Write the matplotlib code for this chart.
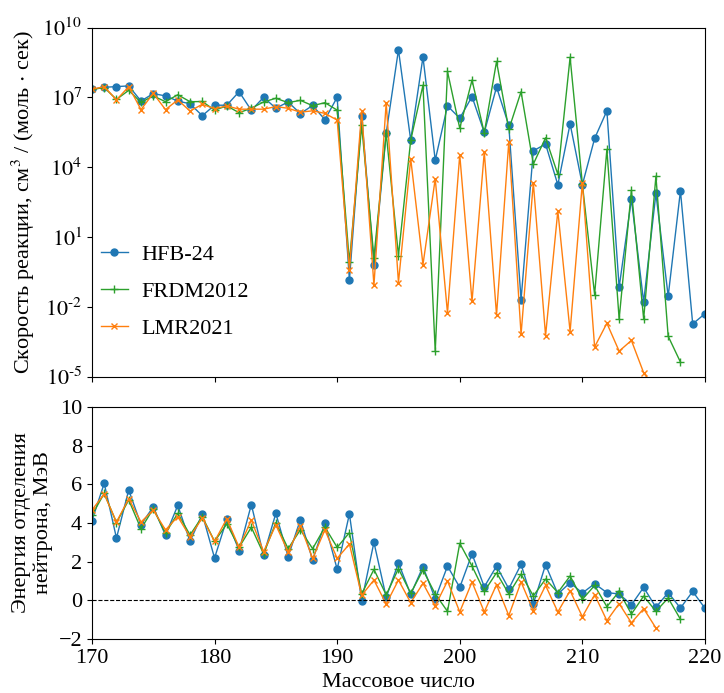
import numpy as np
import matplotlib
matplotlib.use('Agg')
import matplotlib.pyplot as plt
from matplotlib.ticker import FixedLocator, FuncFormatter, NullLocator

plt.rcParams['font.family'] = ['Liberation Serif', 'DejaVu Serif']
plt.rcParams['mathtext.fontset'] = 'stix'
plt.rcParams['font.size'] = 16

# mass numbers
mass_hfb = np.arange(170, 221)
mass_frdm = np.arange(170, 219)
mass_lmr = np.arange(170, 217)

# log10 of the reaction rate
log_rate_hfb = [7.34, 7.43, 7.46, 7.49, 6.84, 7.16, 7.06, 6.84, 6.72, 6.21,
                6.66, 6.66, 7.24, 6.44, 7.00, 6.53, 6.80, 6.30, 6.65, 6.04,
                7.00, -0.86, 6.19, -0.19, 5.46, 9.04, 5.16, 8.73, 4.30, 6.63,
                6.10, 7.03, 5.49, 7.44, 5.79, -1.70, 4.70, 4.99, 3.24, 5.86,
                3.24, 5.23, 6.42, -1.17, 2.62, -1.80, 2.87, -1.55, 2.98, -2.74,
                -2.30]
log_rate_frdm = [7.34, 7.42, 6.91, 7.30, 6.78, 7.06, 6.81, 7.11, 6.81, 6.82,
                 6.45, 6.63, 6.34, 6.53, 6.80, 6.96, 6.77, 6.87, 6.64, 6.77,
                 6.45, -0.08, 5.79, 0.11, 5.46, 0.20, 5.16, 7.52, -3.92, 8.11,
                 5.67, 7.74, 5.47, 8.54, 5.62, 7.24, 4.13, 5.26, 3.69, 8.72,
                 3.28, -1.48, 4.76, -2.53, 3.00, -2.53, 3.61, -3.27, -4.38]
log_rate_lmr = [7.34, 7.46, 6.89, 7.46, 6.47, 7.17, 6.47, 6.89, 6.41, 6.70,
                6.51, 6.63, 6.49, 6.49, 6.49, 6.60, 6.53, 6.36, 6.42, 6.31,
                6.02, -0.41, 6.42, -1.08, 6.77, -0.96, 4.36, -0.19, 3.50, -2.27,
                4.53, -1.77, 4.65, -2.36, 5.09, -3.19, 3.33, -3.24, 2.12, -3.07,
                3.33, -3.73, -2.71, -3.91, -3.45, -4.84, -5.60]

# neutron separation energy, MeV
sn_hfb = [4.12, 6.05, 3.22, 5.71, 3.91, 4.84, 3.36, 4.91, 3.05, 4.46,
          2.19, 4.19, 2.57, 4.95, 2.33, 4.50, 2.26, 4.17, 2.08, 3.98,
          1.61, 4.47, -0.04, 3.00, 0.16, 1.93, 0.31, 1.74, 0.08, 1.77,
          0.67, 2.40, 0.70, 1.77, 0.60, 1.86, -0.18, 1.84, 0.33, 0.91,
          0.38, 0.86, 0.40, 0.33, -0.23, 0.67, -0.36, 0.40, -0.40, 0.46,
          -0.41]
sn_frdm = [4.41, 5.53, 4.02, 5.19, 3.70, 4.74, 3.47, 4.50, 3.38, 4.33,
           3.05, 3.95, 2.74, 3.78, 2.40, 4.02, 2.67, 3.65, 2.67, 3.79,
           2.74, 3.50, 0.33, 1.60, 0.28, 1.64, 0.36, 1.57, 0.33, -0.57,
           2.95, 1.77, 0.46, 1.43, 0.33, 1.36, 0.23, 1.10, 0.40, 1.26,
           0.05, 0.77, -0.33, 0.46, -0.71, 0.22, -0.57, 0.12, -0.98]
sn_lmr = [4.67, 5.50, 4.05, 5.26, 4.05, 4.67, 3.64, 4.33, 3.29, 4.26,
          3.05, 4.22, 2.74, 4.15, 2.52, 3.90, 2.50, 3.85, 2.17, 3.64,
          2.17, 2.91, 0.26, 1.05, -0.19, 1.05, -0.12, 0.88, -0.29, 1.00,
          -0.60, 0.95, -0.60, 0.81, -0.79, 0.95, -0.53, 0.77, -0.60, 0.50,
          -0.85, 0.29, -1.05, -0.17, -1.16, -0.43, -1.43]

labels = ['HFB-24', 'FRDM2012', 'LMR2021']


def pow10_label(v, pos):
    # exponent written with a plain hyphen, like the original
    e = int(round(np.log10(v)))
    if e < 0:
        return r'$10^{\text{-%d}}$' % (-e)
    return r'$10^{%d}$' % e


fig = plt.figure(figsize=(7.24, 6.93), dpi=100)
ax1 = fig.add_axes([0.127, 0.4567, 0.8467, 0.5036])
ax2 = fig.add_axes([0.127, 0.0779, 0.8467, 0.3348], sharex=ax1)

# top panel - reaction rates
ax1.plot(mass_hfb, np.power(10.0, log_rate_hfb), color='C0', marker='o', ms=5, lw=1, label=labels[0])
ax1.plot(mass_frdm, np.power(10.0, log_rate_frdm), color='C2', marker='+', ms=6, lw=1, label=labels[1])
ax1.plot(mass_lmr, np.power(10.0, log_rate_lmr), color='C1', marker='x', ms=5, lw=1, label=labels[2])
ax1.set_yscale('log')
ax1.set_ylim(1e-5, 1e10)
ax1.yaxis.set_major_locator(FixedLocator([1e-5, 1e-2, 1e1, 1e4, 1e7, 1e10]))
ax1.yaxis.set_minor_locator(NullLocator())
ax1.yaxis.set_major_formatter(FuncFormatter(pow10_label))
ax1.set_ylabel(r'Скорость реакции, см$^3$ / (моль $\cdot$ сек)')
ax1.tick_params(labelbottom=False)
ax1.legend(loc='lower left', bbox_to_anchor=(-0.018, 0.05), frameon=False, fontsize=16,
           handlelength=1.2, handletextpad=0.6, labelspacing=0.75)

# bottom panel - separation energies
ax2.plot(mass_hfb, sn_hfb, color='C0', marker='o', ms=5, lw=1)
ax2.plot(mass_frdm, sn_frdm, color='C2', marker='+', ms=6, lw=1)
ax2.plot(mass_lmr, sn_lmr, color='C1', marker='x', ms=5, lw=1)
ax2.axhline(0, color='black', linestyle='--', lw=0.8)
ax2.set_ylim(-2, 10)
ax2.set_yticks([-2, 0, 2, 4, 6, 8, 10])
ax2.set_xlim(170, 220)
ax2.set_xticks([170, 180, 190, 200, 210, 220])
ax2.set_xlabel('Массовое число')
ax2.set_ylabel('Энергия отделения\nнейтрона, МэВ')

fig.savefig('out.png', dpi=100)
